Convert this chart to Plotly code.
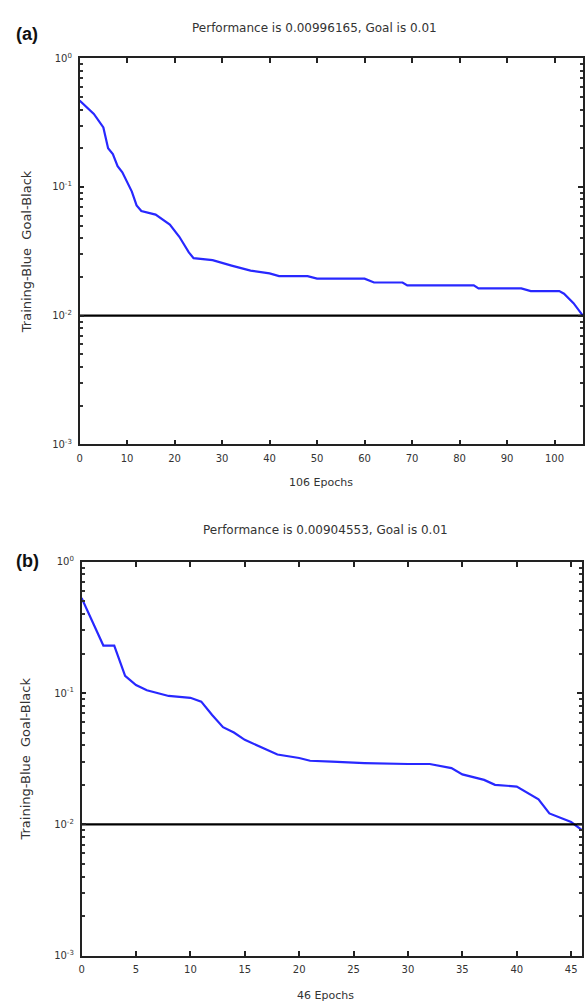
import plotly.graph_objects as go

# Training performance records (mean squared error per epoch)
epochs_a = [0, 3, 5, 6, 7, 8, 9, 11, 12, 13, 16, 18, 19, 21, 23, 24, 28, 32, 36, 40,
            42, 48, 50, 60, 62, 68, 69, 83, 84, 93, 95, 101, 102, 104, 106]
perf_a = [0.47, 0.37, 0.29, 0.20, 0.18, 0.145, 0.13, 0.092, 0.072, 0.065, 0.061, 0.054,
          0.051, 0.041, 0.031, 0.028, 0.027, 0.0245, 0.0224, 0.0213, 0.0203, 0.0203,
          0.0194, 0.0194, 0.0181, 0.0181, 0.0172, 0.0172, 0.0163, 0.0163, 0.0155, 0.0155,
          0.0148, 0.0125, 0.00996165]

epochs_b = [0, 2, 3, 4, 5, 6, 8, 10, 11, 12, 13, 14, 15, 17, 18, 20, 21, 23, 26, 30,
            32, 34, 35, 37, 38, 40, 42, 43, 45, 46]
perf_b = [0.53, 0.23, 0.23, 0.135, 0.115, 0.105, 0.095, 0.092, 0.086, 0.068, 0.055,
          0.050, 0.044, 0.037, 0.034, 0.032, 0.0305, 0.030, 0.0293, 0.0288, 0.0288,
          0.0268, 0.024, 0.0218, 0.020, 0.0194, 0.0155, 0.0121, 0.0104, 0.00904553]

goal = 0.01
n_epochs_a = 106
n_epochs_b = 46

titles = ["Performance is 0.00996165, Goal is 0.01",
          "Performance is 0.00904553, Goal is 0.01"]
xlabels = ["106 Epochs", "46 Epochs"]
ylabel = "Training-Blue  Goal-Black"
panel_tags = ["(a)", "(b)"]

# Decade labels; minor ticks at 2..9 within each decade go on an overlay axis
y_major = [1e-3, 1e-2, 1e-1, 1e0]
y_major_text = ["10<sup>-3</sup>", "10<sup>-2</sup>", "10<sup>-1</sup>", "10<sup>0</sup>"]
y_minor = [m * d for d in (1e-3, 1e-2, 1e-1) for m in range(2, 10)]
x_ticks_a = list(range(0, 101, 10))
x_ticks_b = list(range(0, 46, 5))

W, H = 585, 1008
FONT = "DejaVu Sans, Liberation Sans, sans-serif"
TXT = "#333333"
BLUE = "#2828ff"

fig = go.Figure()

fig.add_trace(go.Scatter(x=epochs_a, y=perf_a, mode="lines",
                         line=dict(color=BLUE, width=2.2), xaxis="x", yaxis="y"))
fig.add_trace(go.Scatter(x=[0, n_epochs_a], y=[goal, goal], mode="lines",
                         line=dict(color="black", width=2.2), xaxis="x", yaxis="y"))
fig.add_trace(go.Scatter(x=epochs_b, y=perf_b, mode="lines",
                         line=dict(color=BLUE, width=2.2), xaxis="x2", yaxis="y2"))
fig.add_trace(go.Scatter(x=[0, n_epochs_b], y=[goal, goal], mode="lines",
                         line=dict(color="black", width=2.2), xaxis="x2", yaxis="y2"))

# Pixel frames of the two plot areas (left, right, top, bottom)
frames = [(77, 583, 52, 443), (79, 582, 562, 961)]


def px_x(p):
    return p / W


def px_y(p):
    return 1 - p / H


def xaxis(frame, rng, ticks):
    l, r, t, b = frame
    return dict(domain=[px_x(l), px_x(r)], range=rng, tickvals=ticks,
                ticks="inside", ticklen=5, tickwidth=1.5, tickcolor="#222",
                showline=True, linecolor="#222", linewidth=1.5, mirror="ticks",
                showgrid=False, zeroline=False, ticklabelstandoff=4,
                tickfont=dict(family=FONT, size=10, color=TXT))


def yaxis(frame, anchor):
    l, r, t, b = frame
    return dict(domain=[px_y(b), px_y(t)], type="log", range=[-3, 0], anchor=anchor,
                tickvals=y_major, ticktext=y_major_text,
                ticks="inside", ticklen=5, tickwidth=1.5, tickcolor="#222",
                showline=True, linecolor="#222", linewidth=1.5, mirror="ticks",
                showgrid=False, zeroline=False, ticklabelstandoff=4,
                tickfont=dict(family=FONT, size=10, color=TXT))


def minor_yaxis(frame, anchor, over):
    l, r, t, b = frame
    return dict(domain=[px_y(b), px_y(t)], type="log", range=[-3, 0], anchor=anchor,
                overlaying=over, tickvals=y_minor, showticklabels=False,
                ticks="inside", ticklen=3.5, tickwidth=1.5, tickcolor="#333",
                showline=False, mirror="ticks", showgrid=False, zeroline=False)


fig.update_layout(
    width=W, height=H, margin=dict(l=0, r=0, t=0, b=0),
    paper_bgcolor="white", plot_bgcolor="white", showlegend=False,
    xaxis=dict(**xaxis(frames[0], [0, n_epochs_a], x_ticks_a), anchor="y"),
    yaxis=yaxis(frames[0], "x"),
    xaxis2=dict(**xaxis(frames[1], [0, n_epochs_b], x_ticks_b), anchor="y2"),
    yaxis2=yaxis(frames[1], "x2"),
    yaxis3=minor_yaxis(frames[0], "x", "y"),
    yaxis4=minor_yaxis(frames[1], "x2", "y2"),
)

# Invisible carriers so the minor-tick overlay axes get drawn
fig.add_trace(go.Scatter(x=[0], y=[goal], mode="markers", marker=dict(opacity=0),
                         hoverinfo="skip", xaxis="x", yaxis="y3"))
fig.add_trace(go.Scatter(x=[0], y=[goal], mode="markers", marker=dict(opacity=0),
                         hoverinfo="skip", xaxis="x2", yaxis="y4"))

annotations = []
title_x = [313, 324]
title_y = [21, 530]
xlabel_x = [320, 324]
xlabel_y = [482, 1001]
tag_y = [27, 561]
for i, (l, r, t, b) in enumerate(frames):
    annotations.append(dict(text=titles[i], x=px_x(title_x[i]), y=px_y(title_y[i]),
                            xref="paper", yref="paper", showarrow=False,
                            xanchor="center", yanchor="middle",
                            font=dict(family=FONT, size=12, color=TXT)))
    annotations.append(dict(text=xlabels[i], x=px_x(xlabel_x[i]), y=px_y(xlabel_y[i]),
                            xref="paper", yref="paper", showarrow=False,
                            xanchor="center", yanchor="middle",
                            font=dict(family=FONT, size=11, color=TXT)))
    annotations.append(dict(text=ylabel, x=px_x(23), y=px_y((t + b) / 2),
                            xref="paper", yref="paper", showarrow=False, textangle=-90,
                            xanchor="center", yanchor="middle",
                            font=dict(family=FONT, size=13, color=TXT)))
    annotations.append(dict(text="<b>" + panel_tags[i] + "</b>", x=px_x(11), y=px_y(tag_y[i]),
                            xref="paper", yref="paper", showarrow=False,
                            xanchor="left", yanchor="middle",
                            font=dict(family="Liberation Sans, Arial, sans-serif",
                                      size=18, color="#111")))
fig.update_layout(annotations=annotations)

fig.write_html("out.html")
